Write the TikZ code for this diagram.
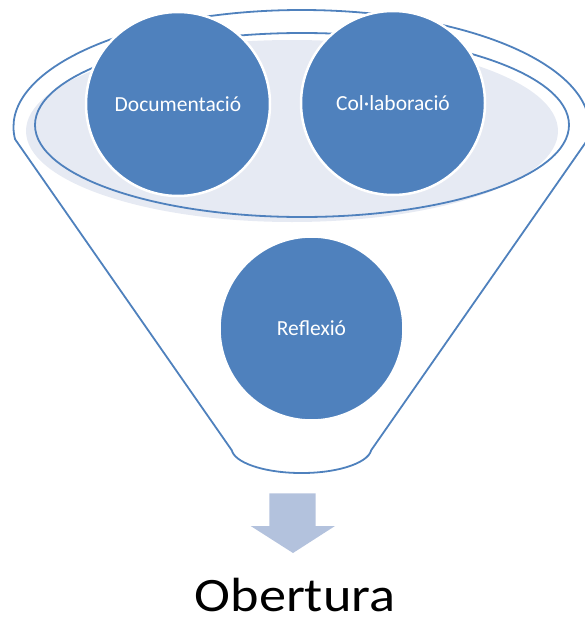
\documentclass[tikz,border=0pt]{standalone}
\usepackage{fontspec}
\setmainfont{Carlito}
\usetikzlibrary{positioning}
\definecolor{funnelblue}{HTML}{4F81BD}
\definecolor{rimfill}{HTML}{E6EAF3}
\definecolor{arrowblue}{HTML}{B3C2DD}

\begin{document}
\begin{tikzpicture}[x=1pt,y=-1pt,
  bubble/.style={circle, fill=funnelblue, draw=white, line width=2.5pt, minimum size=184pt, inner sep=0pt, text=white, font=\fontsize{21.5}{26}\selectfont},
  rim/.style={draw=funnelblue, line width=1.8pt}]
\useasboundingbox (0,0) rectangle (585,626);
% funnel
\fill[rimfill] (292,131) ellipse [x radius=266, y radius=91];
\draw[rim] (302,125) ellipse [x radius=267, y radius=92];
\draw[rim] (301.5,127) ++(174:288 and 117) arc [start angle=174, end angle=366, x radius=288, y radius=117]
  -- (371.2,450.2) arc [start angle=5, end angle=175, x radius=70, y radius=25] -- cycle;
% circles
\foreach \n/\x/\y/\l in {doc/178/104/Documentació, col/393/103/Col·laboració, ref/311.5/328.5/Reflexió} {
  \node[bubble] (\n) at (\x,\y) {\l};
}
% arrow and result
\fill[arrowblue] (269.3,493.3) -- (315.7,493.3) -- (315.7,526) -- (335,526) -- (293,553) -- (250.7,526) -- (269.3,526) -- cycle;
\node[anchor=base, inner sep=0pt, font=\fontsize{48}{56}\selectfont] (out) at (295,611) {\scalebox{1.13}[1]{Obertura}};
\end{tikzpicture}
\end{document}
